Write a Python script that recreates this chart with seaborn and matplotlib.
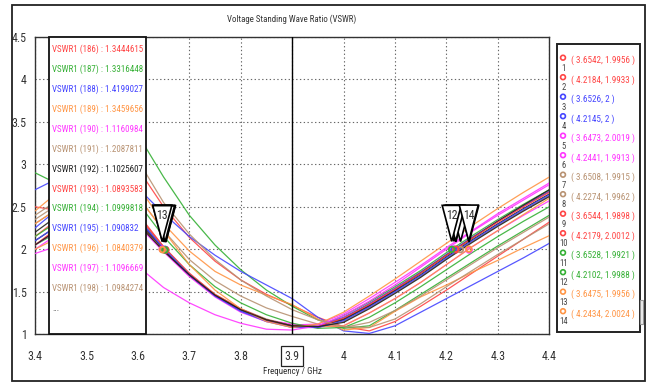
import numpy as np
import pandas as pd
import matplotlib
matplotlib.use("Agg")
import matplotlib.pyplot as plt
import seaborn as sns
from matplotlib import font_manager as fm
from matplotlib.patches import Rectangle, Polygon
from matplotlib.transforms import ScaledTranslation
from matplotlib.textpath import TextPath

# ---------------- data ----------------
freq = [3.40, 3.45, 3.50, 3.55, 3.60, 3.65, 3.70, 3.75, 3.80, 3.85, 3.90,
        3.95, 4.00, 4.05, 4.10, 4.15, 4.20, 4.25, 4.30, 4.35, 4.40]

v186 = [2.50, 2.45, 2.60, 2.85, 2.95, 2.50, 2.14, 1.86, 1.64, 1.47, 1.34, 1.20, 1.09, 1.04, 1.15, 1.33, 1.52, 1.72, 1.92, 2.12, 2.32]
v187 = [2.90, 2.75, 2.95, 3.30, 3.35, 2.85, 2.40, 2.05, 1.76, 1.52, 1.33, 1.17, 1.07, 1.10, 1.28, 1.47, 1.66, 1.85, 2.04, 2.22, 2.40]
v188 = [2.70, 2.85, 2.80, 2.70, 2.72, 2.42, 2.15, 1.93, 1.74, 1.58, 1.42, 1.20, 1.04, 1.01, 1.10, 1.26, 1.42, 1.58, 1.74, 1.90, 2.07]
v189 = [2.45, 2.70, 2.90, 2.95, 2.75, 2.30, 1.98, 1.74, 1.58, 1.46, 1.35, 1.18, 1.05, 1.08, 1.27, 1.44, 1.58, 1.73, 1.87, 2.02, 2.16]
v190 = [2.00, 2.20, 2.40, 2.50, 2.33, 1.99, 1.69, 1.45, 1.28, 1.17, 1.12, 1.09, 1.10, 1.25, 1.42, 1.61, 1.82, 2.03, 2.22, 2.40, 2.57]
v191 = [2.30, 2.50, 2.68, 2.75, 2.62, 2.22, 1.88, 1.63, 1.45, 1.31, 1.21, 1.12, 1.08, 1.14, 1.28, 1.45, 1.64, 1.83, 2.02, 2.20, 2.38]
v192 = [2.10, 2.30, 2.45, 2.50, 2.33, 1.98, 1.69, 1.45, 1.28, 1.16, 1.10, 1.08, 1.17, 1.33, 1.51, 1.70, 1.91, 2.11, 2.30, 2.48, 2.65]
v193 = [2.15, 2.38, 2.55, 2.58, 2.42, 2.03, 1.70, 1.45, 1.28, 1.16, 1.09, 1.08, 1.19, 1.36, 1.54, 1.73, 1.93, 2.14, 2.33, 2.51, 2.68]
v194 = [2.05, 2.22, 2.40, 2.48, 2.36, 2.02, 1.71, 1.46, 1.29, 1.17, 1.10, 1.09, 1.22, 1.38, 1.56, 1.75, 1.96, 2.16, 2.35, 2.53, 2.70]
v195 = [2.25, 2.50, 2.62, 2.55, 2.38, 2.02, 1.71, 1.46, 1.28, 1.16, 1.09, 1.10, 1.20, 1.36, 1.54, 1.73, 1.94, 2.14, 2.33, 2.51, 2.68]
v196 = [2.00, 2.15, 2.35, 2.45, 2.30, 1.99, 1.70, 1.46, 1.29, 1.17, 1.08, 1.09, 1.10, 1.25, 1.42, 1.61, 1.82, 2.03, 2.22, 2.41, 2.60]
v197 = [2.05, 2.25, 2.40, 2.42, 2.28, 1.97, 1.68, 1.44, 1.26, 1.15, 1.11, 1.12, 1.24, 1.42, 1.61, 1.81, 2.02, 2.22, 2.42, 2.60, 2.78]
v198 = [2.35, 2.55, 2.65, 2.60, 2.40, 2.01, 1.71, 1.47, 1.30, 1.18, 1.10, 1.10, 1.15, 1.31, 1.49, 1.68, 1.89, 2.09, 2.28, 2.46, 2.63]
v199 = [2.20, 2.42, 2.55, 2.52, 2.35, 2.00, 1.70, 1.46, 1.29, 1.17, 1.10, 1.09, 1.18, 1.34, 1.52, 1.72, 1.93, 2.13, 2.33, 2.52, 2.70]
v200 = [2.05, 2.28, 2.48, 2.56, 2.40, 2.03, 1.72, 1.47, 1.30, 1.17, 1.10, 1.09, 1.19, 1.35, 1.53, 1.72, 1.93, 2.13, 2.32, 2.50, 2.67]
v201 = [2.15, 2.35, 2.55, 2.65, 2.55, 2.15, 1.82, 1.56, 1.37, 1.23, 1.13, 1.07, 1.08, 1.20, 1.37, 1.56, 1.76, 1.96, 2.15, 2.33, 2.50]
v202 = [2.10, 2.30, 2.48, 2.52, 2.36, 2.01, 1.70, 1.45, 1.27, 1.15, 1.08, 1.08, 1.16, 1.32, 1.50, 1.69, 1.90, 2.10, 2.29, 2.47, 2.64]
v203 = [2.30, 2.50, 2.70, 2.78, 2.62, 2.22, 1.82, 1.52, 1.30, 1.15, 1.08, 1.12, 1.26, 1.45, 1.65, 1.86, 2.07, 2.28, 2.48, 2.67, 2.85]
v204 = [1.95, 2.05, 2.10, 2.00, 1.80, 1.55, 1.37, 1.23, 1.13, 1.06, 1.05, 1.10, 1.22, 1.39, 1.58, 1.79, 2.00, 2.21, 2.40, 2.58, 2.76]
v205 = [2.40, 2.60, 2.85, 3.05, 3.05, 2.55, 2.18, 1.88, 1.64, 1.45, 1.29, 1.17, 1.09, 1.08, 1.18, 1.36, 1.56, 1.75, 1.94, 2.12, 2.30]
v206 = [2.05, 2.25, 2.40, 2.45, 2.30, 1.98, 1.70, 1.46, 1.29, 1.17, 1.10, 1.09, 1.14, 1.30, 1.48, 1.67, 1.88, 2.08, 2.27, 2.45, 2.62]

curve_ids = list(range(186, 207))
curve_values = [v186, v187, v188, v189, v190, v191, v192, v193, v194, v195, v196,
                v197, v198, v199, v200, v201, v202, v203, v204, v205, v206]

# values read at the 3.9 GHz line (readout box)
readout_ids = [186, 187, 188, 189, 190, 191, 192, 193, 194, 195, 196, 197, 198]
readout_vals = ["1.3444615", "1.3316448", "1.4199027", "1.3459656", "1.1160984",
                "1.2087811", "1.1025607", "1.0893583", "1.0999818", "1.090832",
                "1.0840379", "1.1096669", "1.0984274"]

# markers
marker_x = [3.6542, 4.2184, 3.6526, 4.2145, 3.6473, 4.2441, 3.6508,
            4.2274, 3.6544, 4.2179, 3.6528, 4.2102, 3.6475, 4.2434]
marker_y = [1.9956, 1.9933, 2, 2, 2.0019, 1.9913, 1.9915,
            1.9962, 1.9898, 2.0012, 1.9921, 1.9988, 1.9956, 2.0024]
marker_cols = ["red", "red", "blue", "blue", "magenta", "magenta", "tan",
               "tan", "red", "red", "green", "green", "orange", "orange"]

xtick_vals = [3.4, 3.5, 3.6, 3.7, 3.8, 3.9, 4.0, 4.1, 4.2, 4.3, 4.4]
xtick_labels = ["3.4", "3.5", "3.6", "3.7", "3.8", "3.9", "4", "4.1", "4.2", "4.3", "4.4"]
ytick_vals = [1, 1.5, 2, 2.5, 3, 3.5, 4, 4.5]
ytick_labels = ["1", "1.5", "2", "2.5", "3", "3.5", "4", "4.5"]

COL = {"red": "#FF4545", "green": "#35B035", "blue": "#4545FF", "orange": "#FF9545",
       "magenta": "#FF35FF", "tan": "#B89272", "black": "#202020"}
cycle = ["red", "green", "blue", "orange", "magenta", "tan", "black"]

# ---------------- fonts ----------------
sns.set_style("white")

SAMPLE = "VSWR1 (186) : 1.3444615"
TARGET_RATIO = 92.0 / 9.5   # ink width / ink height of the sample in the reference


def pick_font():
    cands = ["Fira Sans Extra Condensed", "Fira Sans Condensed", "Cabin Condensed",
             "Ubuntu Condensed", "PT Sans Narrow", "Liberation Sans Narrow",
             "Roboto Condensed", "Archivo Narrow", "Asap Condensed",
             "IBM Plex Sans Condensed", "Encode Sans Condensed",
             "Barlow Semi Condensed", "Barlow Condensed", "Open Sans Condensed",
             "Sofia Sans Condensed", "Saira Semi Condensed"]
    best, best_err = "DejaVu Sans", 1e9
    for fam in cands:
        try:
            fm.findfont(fm.FontProperties(family=fam), fallback_to_default=False)
            ext = TextPath((0, 0), SAMPLE, size=10,
                           prop=fm.FontProperties(family=fam)).get_extents()
            err = abs(ext.width / ext.height - TARGET_RATIO)
            if err < best_err - 0.05:
                best, best_err = fam, err
        except Exception:
            continue
    return best


FAM = pick_font()
plt.rcParams["font.family"] = [FAM, "DejaVu Sans"]

# ---------------- figure ----------------
W, H = 647, 383
fig = plt.figure(figsize=(W / 100, H / 100), dpi=100)
fig.patch.set_facecolor("white")
renderer = fig.canvas.get_renderer()


def fit_size(s, target_px, base=8.0):
    t = fig.text(0, 0, s, fontsize=base)
    w = t.get_window_extent(renderer=renderer).width
    t.remove()
    return base * target_px / max(w, 1)


FS_LEFT = fit_size(SAMPLE, 92)
FS_RIGHT = fit_size("( 3.6542, 1.9956 )", 64)
FS_TITLE = fit_size("Voltage Standing Wave Ratio (VSWR)", 130)
FS_XLAB = fit_size("Frequency / GHz", 59)
FS_TICK = fit_size("3.4", 15)

AX_L, AX_R, AX_T, AX_B = 35, 549.3, 36.7, 334.3
ax = fig.add_axes([AX_L / W, 1 - AX_B / H, (AX_R - AX_L) / W, (AX_B - AX_T) / H])

rows = []
for cid, vals in zip(curve_ids, curve_values):
    for f, v in zip(freq, vals):
        rows.append((str(cid), f, v))
df = pd.DataFrame(rows, columns=["curve", "freq", "vswr"])
palette = {str(cid): COL[cycle[i % 7]] for i, cid in enumerate(curve_ids)}

sns.lineplot(data=df, x="freq", y="vswr", hue="curve", palette=palette,
             estimator=None, sort=False, legend=False, linewidth=0.9,
             alpha=0.9, ax=ax, zorder=3)

ax.set_xlim(3.4, 4.4)
ax.set_ylim(1, 4.5)
ax.set_xticks(xtick_vals)
ax.set_xticklabels(xtick_labels)
ax.set_yticks(ytick_vals)
ax.set_yticklabels(ytick_labels)
ax.set_xlabel("")
ax.set_ylabel("")
ax.tick_params(axis="both", direction="out", length=3, width=0.8, color="#444444",
               labelsize=FS_TICK, labelcolor="#333333")
ax.tick_params(axis="x", pad=8)
ax.tick_params(axis="y", pad=3)
ax.grid(True, linestyle=(0, (1.2, 2.2)), color="#666666", linewidth=0.8)
ax.set_axisbelow(True)
for s in ax.spines.values():
    s.set_color("#333333")
    s.set_linewidth(1.0)

# marker line at 3.9
ax.axvline(3.9, color="black", linewidth=1.0, zorder=4)
for lbl in ax.get_xticklabels():
    if lbl.get_text() == "3.9":
        lbl.set_bbox(dict(facecolor="white", edgecolor="#222222", boxstyle="square,pad=0.3",
                          linewidth=0.9))

# markers
ax.scatter(marker_x, marker_y, s=16, facecolors="none",
           edgecolors=[COL[c] for c in marker_cols], linewidths=1.3, zorder=6)

# marker flags (triangles); label only the flag not covered by a later one
px_of = [AX_L + (mx - 3.4) * (AX_R - AX_L) for mx in marker_x]
for i, (mx, my) in enumerate(zip(marker_x, marker_y)):
    tr = fig.dpi_scale_trans + ScaledTranslation(mx, my, ax.transData)
    poly = Polygon([(-9.5 / 100, 44 / 100), (9.5 / 100, 44 / 100), (0, 8 / 100)],
                   closed=True, transform=tr, facecolor="white", edgecolor="black",
                   linewidth=1.2, zorder=7, clip_on=False)
    ax.add_patch(poly)
    covered = any(abs(px_of[j] - px_of[i]) < 12 for j in range(i + 1, len(marker_x)))
    if not covered:
        ax.annotate(str(i + 1), xy=(mx, my), xytext=(0, 34), textcoords="offset pixels",
                    ha="center", va="center", fontsize=FS_TICK, color="#333333", zorder=8)

# overlay in pixel coordinates
lg = fig.add_axes([0, 0, 1, 1], facecolor="none")
lg.set_xlim(0, W)
lg.set_ylim(H, 0)
lg.axis("off")

# left readout box
lg.add_patch(Rectangle((49, AX_T), 97, AX_B - AX_T, facecolor="white",
                       edgecolor="#111111", linewidth=1.3))
for i, (cid, val) in enumerate(zip(readout_ids, readout_vals)):
    c = COL[cycle[(cid - 186) % 7]]
    lg.text(52, 49.5 + 19.9 * i, f"VSWR1 ({cid}) : {val}", color=c,
            fontsize=FS_LEFT, ha="left", va="center")
lg.text(52, 49.5 + 19.9 * 13, "...", color="#333333", fontsize=FS_LEFT,
        ha="left", va="center")

# right marker legend
lg.add_patch(Rectangle((557, 44), 83, 288, facecolor="white", edgecolor="#222222",
                       linewidth=1.4))
for i, (mx, my, mc) in enumerate(zip(marker_x, marker_y, marker_cols)):
    yc = 60.7 + 19.5 * i
    lg.scatter([563], [yc - 3], s=12, facecolors="none", edgecolors=COL[mc], linewidths=1.2)
    lg.text(563.5, yc + 7.5, str(i + 1), fontsize=FS_RIGHT * 0.95, color="#444444",
            ha="center", va="center")
    lg.text(571, yc, f"( {mx:g}, {my:g} )", fontsize=FS_RIGHT, color=COL[mc],
            ha="left", va="center")
lg.add_patch(Rectangle((640, 300), 3, 24, facecolor="#eeeeee", edgecolor="#999999",
                       linewidth=0.8))

# outer frame, title, x label
lg.add_patch(Rectangle((12, 5), 633, 376, facecolor="none", edgecolor="#222222",
                       linewidth=1.3))
lg.text(292, 19, "Voltage Standing Wave Ratio (VSWR)", fontsize=FS_TITLE, color="#333333",
        ha="center", va="center")
lg.text(292, 372, "Frequency / GHz", fontsize=FS_XLAB, color="#333333",
        ha="center", va="center")

fig.savefig("out.png", dpi=100, facecolor="white")
